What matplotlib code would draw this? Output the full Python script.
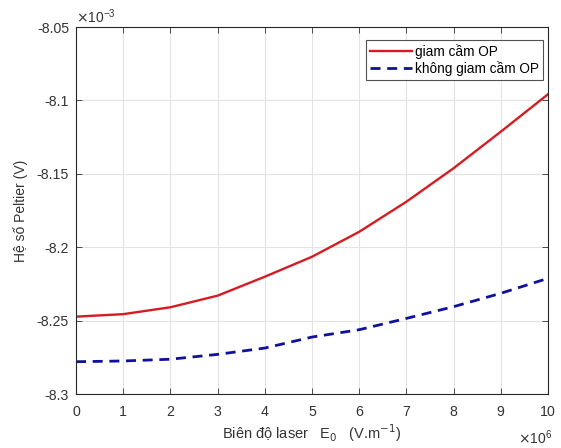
import matplotlib
matplotlib.use("Agg")
import matplotlib.pyplot as plt
import numpy as np

plt.rcParams['font.family'] = ['Liberation Sans', 'DejaVu Sans']

x_vals = [0, 1, 2, 3, 4, 5, 6, 7, 8, 9, 10]
red_vals = [-8.2473, -8.2456, -8.2409, -8.2330, -8.2201, -8.2065, -8.1895, -8.1690, -8.1462, -8.1213, -8.0958]
blue_vals = [-8.2780, -8.2775, -8.2763, -8.2730, -8.2687, -8.2612, -8.2562, -8.2485, -8.2405, -8.2314, -8.2212]

xticks = [0, 1, 2, 3, 4, 5, 6, 7, 8, 9, 10]
yticks = [-8.3, -8.25, -8.2, -8.15, -8.1, -8.05]
ytick_labels = ['-8.3', '-8.25', '-8.2', '-8.15', '-8.1', '-8.05']

fig = plt.figure(figsize=(5.61, 4.48), dpi=100)
ax = fig.add_axes([0.1355, 0.1205, 0.8413, 0.8192])

ax.plot(x_vals, red_vals, color='#d41c22', lw=1.7, label='giam cầm OP',
        solid_joinstyle='round')
ax.plot(x_vals, blue_vals, color='#10109a', lw=2.0, ls=(0, (3.6, 2.4)),
        label='không giam cầm OP')

ax.set_xlim(0, 10)
ax.set_ylim(-8.3, -8.05)
ax.set_xticks(xticks)
ax.set_xticklabels([str(t) for t in xticks])
ax.set_yticks(yticks)
ax.set_yticklabels(ytick_labels)
ax.grid(True, color='#e3e3e3', lw=0.8)
ax.set_axisbelow(True)
ax.tick_params(direction='in', top=True, right=True, length=4, width=0.6,
               labelsize=10.2, colors='#333333')
ax.tick_params(axis='x', pad=8)
ax.tick_params(axis='y', pad=5)
for s in ax.spines.values():
    s.set_color('#262626')
    s.set_linewidth(0.8)

ax.set_xlabel('Biên độ laser   E$_0$   (V.m$^{-1}$)', fontsize=10.5, color='#333333', labelpad=2)
ax.set_ylabel('Hệ số Peltier (V)', fontsize=10, color='#333333', labelpad=6)

ax.text(0.0, 1.003, r'$\times\mathregular{10^{-3}}$', transform=ax.transAxes,
        fontsize=10, color='#333333', ha='left', va='bottom')
ax.text(1.01, -0.095, r'$\times\mathregular{10^{6}}$', transform=ax.transAxes,
        fontsize=10, color='#333333', ha='right', va='top')

leg = ax.legend(loc='upper right', bbox_to_anchor=(0.99, 0.965), fontsize=9.8,
                frameon=True, fancybox=False, edgecolor='#262626',
                handlelength=3.1, handletextpad=0.2, borderpad=0.3,
                labelspacing=0.15, borderaxespad=0.0)
leg.get_frame().set_linewidth(0.8)

fig.savefig('out.png', dpi=100)
